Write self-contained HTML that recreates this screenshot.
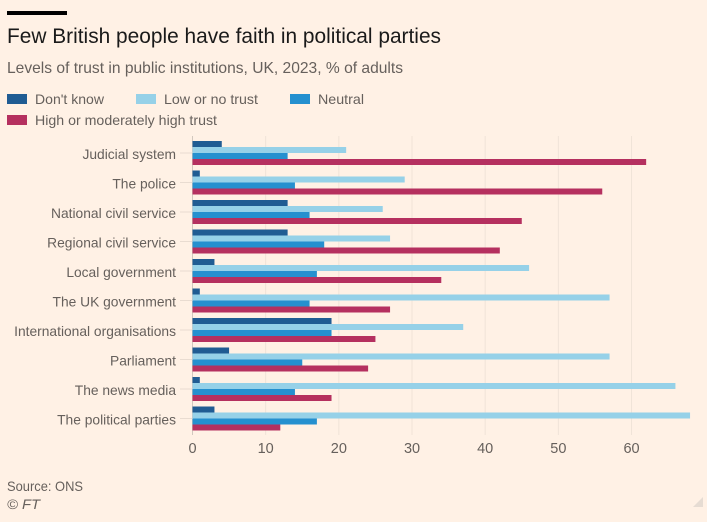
<!DOCTYPE html>
<html lang="en">
<head>
<meta charset="utf-8">
<title>Few British people have faith in political parties</title>
<style>
html,body{margin:0;padding:0;background:#fff1e5;}
body{width:707px;height:522px;overflow:hidden;}
svg{display:block;font-family:"Liberation Sans",sans-serif;}
</style>
</head>
<body>
<svg id="chart" width="707" height="522" viewBox="0 0 707 522" xmlns="http://www.w3.org/2000/svg">
<rect x="0" y="0" width="707" height="522" fill="#fff1e5"/>
<rect x="7" y="11" width="60" height="4" fill="#000"/>
<text x="7" y="43" font-size="21" fill="#1a1a1a" textLength="434" lengthAdjust="spacingAndGlyphs">Few British people have faith in political parties</text>
<text x="7" y="73" font-size="16" fill="#66605c" textLength="396" lengthAdjust="spacingAndGlyphs">Levels of trust in public institutions, UK, 2023, % of adults</text>
<g id="legend" font-size="14" fill="#66605c">
<rect x="7" y="94" width="20" height="10" fill="#205c93"/>
<text x="35" y="104" textLength="69" lengthAdjust="spacingAndGlyphs">Don't know</text>
<rect x="136" y="94" width="20" height="10" fill="#96d1e8"/>
<text x="164" y="104" textLength="94" lengthAdjust="spacingAndGlyphs">Low or no trust</text>
<rect x="290" y="94" width="20" height="10" fill="#2590cf"/>
<text x="318" y="104" textLength="46" lengthAdjust="spacingAndGlyphs">Neutral</text>
<rect x="7" y="115" width="20" height="10" fill="#b5305f"/>
<text x="35" y="125" textLength="182" lengthAdjust="spacingAndGlyphs">High or moderately high trust</text>
</g>
<g id="grid"></g>
<g id="rows"></g>
<g id="ticks"></g>
<text x="7" y="491" font-size="14" fill="#66605c" textLength="76" lengthAdjust="spacingAndGlyphs">Source: ONS</text>
<text x="7" y="509" font-size="14" font-style="italic" fill="#66605c" textLength="33" lengthAdjust="spacingAndGlyphs">© FT</text>
<polygon points="693,507 703,497 703,507" fill="#e6dcd3"/>
</svg>
<script>
var categories = ["Judicial system","The police","National civil service","Regional civil service","Local government","The UK government","International organisations","Parliament","The news media","The political parties"];
var dontKnow = [4,1,13,13,3,1,19,5,1,3];
var lowTrust = [21,29,26,27,46,57,37,57,66,68];
var neutral = [13,14,16,18,17,16,19,15,14,17];
var highTrust = [62,56,45,42,34,27,25,24,19,12];
var xTicks = [0,10,20,30,40,50,60];

var NS = "http://www.w3.org/2000/svg";
var X0 = 192.5, PX_PER_UNIT = 7.317, ROW_TOP = 141, ROW_STEP = 29.5, BAR_H = 6;
function xScale(v){ return X0 + v * PX_PER_UNIT; }
function rowY(i){ return ROW_TOP + i * ROW_STEP; }
function make(tag, attrs){
  var el = document.createElementNS(NS, tag);
  for (var k in attrs) el.setAttribute(k, attrs[k]);
  return el;
}
var gridG = document.getElementById("grid");
var ticksG = document.getElementById("ticks");
var rowsG = document.getElementById("rows");

xTicks.forEach(function(t){
  var line = make("line", {x1:xScale(t), x2:xScale(t), y1:136, y2:435, stroke: t === 0 ? "#d2c8be" : "#f0e3d8", "stroke-width":1});
  
  
  gridG.appendChild(line);
  var label = make("text", {x:xScale(t), y:453, "text-anchor":"middle", "font-size":14.5, fill:"#66605c"});
  
  
  label.textContent = t;
  ticksG.appendChild(label);
});

var seriesList = [
  {values:dontKnow, color:"#205c93"},
  {values:lowTrust, color:"#96d1e8"},
  {values:neutral, color:"#2590cf"},
  {values:highTrust, color:"#b5305f"}
];
categories.forEach(function(cat, i){
  var cy = rowY(i) + 2 * BAR_H;
  var tick = make("line", {x1:180, x2:X0, y1:cy, y2:cy, stroke:"#e9dcd1", "stroke-width":1});
  
  
  rowsG.appendChild(tick);
  var label = make("text", {x:176, y:cy + 6, "text-anchor":"end", "font-size":13.8, fill:"#66605c"});
  
  
  label.textContent = cat;
  rowsG.appendChild(label);
  seriesList.forEach(function(s, j){
    var bar = make("rect", {x:X0, y:rowY(i) + j * BAR_H, width:xScale(s.values[i]) - X0, height:BAR_H, fill:s.color});
    
    
    rowsG.appendChild(bar);
  });
});
</script>
</body>
</html>
